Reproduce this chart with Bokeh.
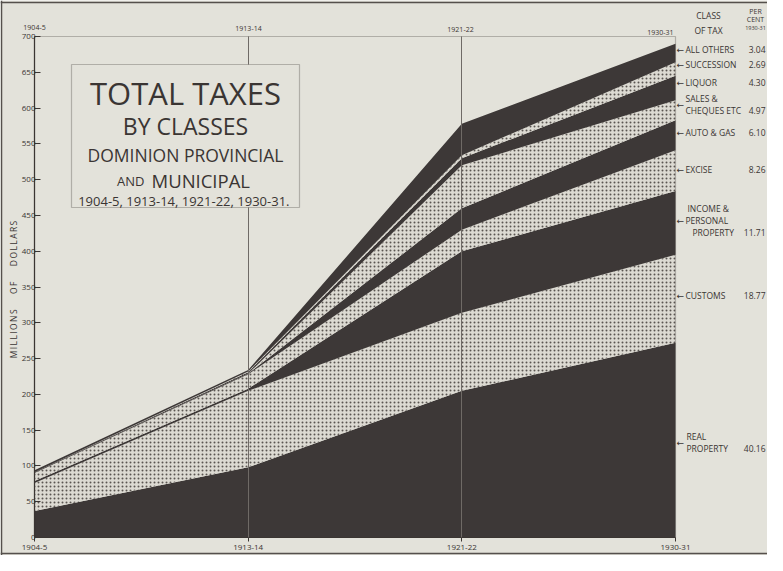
import numpy as np
from bokeh.plotting import figure
from bokeh.models import ColumnDataSource, Range1d, FixedTicker, Label, BoxAnnotation, Span
from bokeh.embed import file_html
from bokeh.resources import INLINE

# ---------------- data (millions of dollars) ----------------
years = ["1904-5", "1913-14", "1921-22", "1930-31"]
real_property = [37, 98, 205, 272]
customs = [39, 107, 109, 123]
income_personal = [3, 3, 86, 89]
excise = [11, 20, 30, 57]
auto_gas = [0, 1, 30, 42]
sales_cheques = [0, 0, 60, 28]
liquor = [1, 2, 10, 34]
succession = [0, 1, 4, 19]
all_others = [3, 2, 44, 26]

percent_1930 = ["40.16", "18.77", "11.71", "8.26", "6.10", "4.97", "4.30", "2.69", "3.04"]
y_ticks = list(range(0, 701, 50))

layer_names = ["real_property", "customs", "income_personal", "excise", "auto_gas",
               "sales_cheques", "liquor", "succession", "all_others"]
layers = [real_property, customs, income_personal, excise, auto_gas,
          sales_cheques, liquor, succession, all_others]

# ---------------- style / layout ----------------
PAPER = "#e3e2da"
DARK = "#3d3837"
DOTBG = "#dcdad2"
INK = "#3a3533"
FONT = "Open Sans"

W, H = 767, 555          # canvas occupies page x 8..775, y 8..563
PX0, PX1 = 42, 683       # page x of first / last year
PY0, PY700 = 545, 44     # page y of 0 and 700
ux = 3 / (PX1 - PX0)
uy = 700 / (PY0 - PY700)
x_start = -(PX0 - 8) * ux
x_end = 3 + (8 + W - PX1) * ux
y_start = -(8 + H - PY0) * uy
y_end = 700 + (PY700 - 8) * uy

p = figure(width=W, height=H, x_range=Range1d(x_start, x_end), y_range=Range1d(y_start, y_end),
           min_border=0, output_backend="svg", toolbar_location=None,
           background_fill_color=PAPER, border_fill_color=PAPER)
p.outline_line_color = None

xs = list(range(len(years)))
src = ColumnDataSource(dict(x=xs))
bottom = np.zeros(len(years))
for i, (name, vals) in enumerate(zip(layer_names, layers)):
    top = bottom + np.array(vals, dtype=float)
    src.data[name + "_lo"] = bottom.tolist()
    src.data[name + "_hi"] = top.tolist()
    if i % 2 == 0:
        p.varea(x="x", y1=name + "_lo", y2=name + "_hi", source=src, fill_color=DARK)
    else:
        p.varea(x="x", y1=name + "_lo", y2=name + "_hi", source=src, fill_color=DOTBG,
                hatch_pattern="dot", hatch_color="#5a5551", hatch_scale=4, hatch_weight=1.2)
    bottom = top

# axes drawn inside the canvas at fixed locations
p.yaxis.fixed_location = 0
p.yaxis.bounds = (0, 700)
p.yaxis.ticker = FixedTicker(ticks=y_ticks)
p.yaxis.major_tick_in = 6
p.yaxis.major_tick_out = 0
p.yaxis.minor_tick_line_color = None
p.yaxis.major_label_standoff = -1
p.yaxis.major_label_text_font_size = "8px"
p.yaxis.major_label_text_font = FONT
p.yaxis.major_label_text_color = INK
p.yaxis.axis_line_color = INK
p.yaxis.axis_line_width = 1.2
p.yaxis.major_tick_line_color = INK

p.xaxis.fixed_location = 0
p.xaxis.bounds = (0, 3)
p.xaxis.ticker = FixedTicker(ticks=xs)
p.xaxis.major_label_overrides = {i: y for i, y in enumerate(years)}
p.xaxis.major_tick_in = 0
p.xaxis.major_tick_out = 4
p.xaxis.minor_tick_line_color = None
p.xaxis.major_label_standoff = 3
p.xaxis.major_label_text_font_size = "8px"
p.xaxis.major_label_text_font = FONT
p.xaxis.major_label_text_color = INK
p.xaxis.axis_line_color = INK
p.xaxis.major_tick_line_color = INK

# vertical year rules between 0 and 700
p.ygrid.visible = False
if hasattr(p.xgrid[0], "cross_bounds"):
    p.xgrid.ticker = FixedTicker(ticks=xs[1:-1])
    p.xgrid.cross_bounds = (y_ticks[0], y_ticks[-1])
    p.xgrid.grid_line_color = "#6f6a66"
    p.xgrid.grid_line_width = 1
    p.xgrid.level = "guide"
else:
    p.xgrid.visible = False
    p.segment(x0=xs[1:-1], y0=[y_ticks[0]] * 2, x1=xs[1:-1], y1=[y_ticks[-1]] * 2,
              line_color="#6f6a66", line_width=1)

# chart frame
p.add_layout(BoxAnnotation(left=0, right=3, bottom=0, top=700, fill_alpha=0,
                           line_color=INK, line_width=1.2))

def X(px):
    return (px - PX0) * ux

def Y(py):
    return (PY0 - py) * uy

# outer page border lines
p.add_layout(Span(location=X(9), dimension="height", line_color="#55504c", line_width=1.5))
p.add_layout(Span(location=Y(10), dimension="width", line_color="#55504c", line_width=1.5))
p.add_layout(Span(location=Y(561), dimension="width", line_color="#55504c", line_width=1.5))

def lab(text, px, py, size, align="left", baseline="middle", angle=0, font=FONT):
    p.add_layout(Label(x=X(px), y=Y(py), text=text, text_font=font, text_font_size=size,
                       text_color=INK, text_align=align, text_baseline=baseline, angle=angle))

# title box
p.add_layout(BoxAnnotation(left=X(79), right=X(307), top=Y(72), bottom=Y(215),
                           fill_color=PAPER, fill_alpha=1, line_color=INK, line_width=1.2))
cx = 193
lab("TOTAL TAXES", cx, 100, "31px", "center", "alphabetic")
lab("BY CLASSES", cx, 133, "23px", "center", "alphabetic")
lab("DOMINION PROVINCIAL", cx, 162, "17.5px", "center", "alphabetic")
lab("AND", 152, 188, "13px", "right", "alphabetic")
lab("MUNICIPAL", 159, 188, "18.5px", "left", "alphabetic")
lab("1904-5, 1913-14,  1921-22, 1930-31.", cx, 208, "13px", "center", "alphabetic")

# y axis title (letter-spaced, non-collapsing word gaps)
ts = "\u2009"
gap = "\u00a0" * 7
ytitle = gap.join(ts.join(w) for w in ["MILLIONS", "OF", "DOLLARS"])
lab(ytitle, 21, 297, "8.5px", "center", "middle", angle=np.pi / 2)

# top year labels
lab(years[0], 42, 35, "7px", "center")
lab(years[1], 256, 36, "7px", "center")
lab(years[2], 468, 37, "7px", "center")
lab(years[3], 681, 40, "7px", "right")

# right header
lab("CLASS", 716, 23, "8.5px", "center")
lab("OF TAX", 716, 38, "8.5px", "center")
lab("PER", 763, 19, "7px", "center")
lab("CENT", 763, 27, "7px", "center")
lab("1930-31", 763, 35, "5.5px", "center")

# legend entries: arrow pointing to band, class name, per cent 1930-31
fs = "8.5px"
def arrow(py):
    lab("\u2190", 684, py, "9px", font="DejaVu Sans")

legend_rows = [
    ([("ALL OTHERS", 693, 57)], 57, 8, 57),
    ([("SUCCESSION", 693, 72)], 72, 7, 72),
    ([("LIQUOR", 693, 90)], 90, 6, 90),
    ([("SALES &", 693, 106), ("CHEQUES ETC", 693, 118)], 112, 5, 118),
    ([("AUTO & GAS", 693, 140)], 140, 4, 140),
    ([("EXCISE", 693, 177)], 177, 3, 177),
    ([("INCOME &", 695, 216), ("PERSONAL", 693, 228), ("PROPERTY", 700, 240)], 228, 2, 240),
    ([("CUSTOMS", 693, 303)], 303, 1, 303),
    ([("REAL", 694, 444), ("PROPERTY", 694, 456)], 450, 0, 456),
]
for lines, ay, pi, py in legend_rows:
    for t, lx, ly in lines:
        lab(t, lx, ly, fs)
    arrow(ay)
    lab(percent_1930[pi], 773, py, fs, "right")

open("out.html", "w").write(file_html(p, INLINE))
